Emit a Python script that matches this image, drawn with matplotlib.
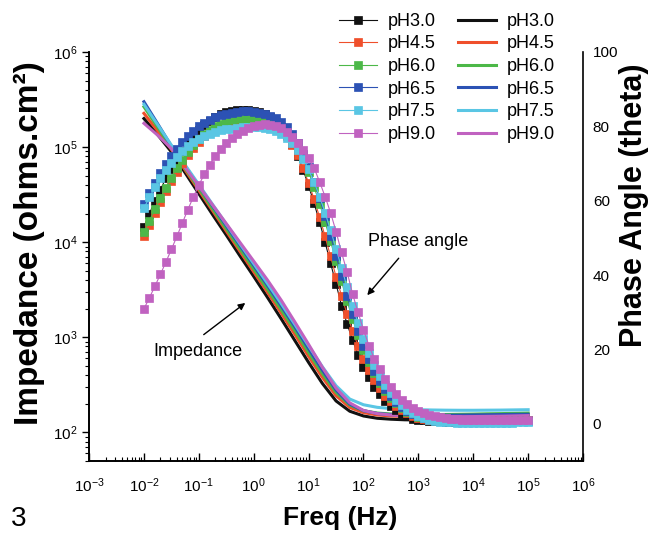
import numpy as np
import matplotlib
matplotlib.use('Agg')
import matplotlib.pyplot as plt
from matplotlib.ticker import LogLocator

plt.rcParams['font.family'] = ['Liberation Sans', 'DejaVu Sans']
plt.rcParams['mathtext.default'] = 'regular'
plt.rcParams['axes.unicode_minus'] = False

# serie pomiarowe
labels = ['pH3.0', 'pH4.5', 'pH6.0', 'pH6.5', 'pH7.5', 'pH9.0']
colors = ['#111111', '#ef4f2b', '#4cb848', '#2c52b4', '#5ac6e4', '#c062c0']

# czestotliwosci: kat fazowy 10 pkt/dekade, impedancja co 0.25 dekady
freq_phase = np.logspace(-2, 5, 71)
freq_imp = np.logspace(-2, 5, 29)

# kat fazowy (stopnie)
phase_30 = [53.0, 56.5, 60.0, 63.0, 66.0, 68.6, 71.0, 73.3, 75.4, 77.2,
            78.9, 80.3, 81.5, 82.5, 83.2, 83.8, 84.2, 84.4, 84.5, 84.4,
            84.2, 83.8, 83.2, 82.4, 81.3, 79.7, 77.7, 75.2, 72.0, 68.3,
            64.0, 59.3, 54.3, 48.8, 43.2, 37.6, 31.8, 26.9, 22.5, 18.6,
            15.4, 12.5, 10.0, 8.0, 6.2, 4.8, 3.6, 2.7, 2.0, 1.4,
            1.1, 0.9, 0.8, 0.7, 0.7, 0.6, 0.6, 0.6, 0.6, 0.6,
            0.6, 0.6, 0.6, 0.7, 0.7, 0.7, 0.8, 0.8, 0.8, 0.9, 0.9]
phase_45 = [50.4, 53.5, 56.6, 59.6, 62.5, 65.2, 67.8, 70.1, 72.3, 74.2,
            75.9, 77.3, 78.5, 79.5, 80.3, 80.9, 81.3, 81.6, 81.8, 81.9,
            81.9, 81.8, 81.5, 81.0, 80.2, 79.0, 77.3, 75.0, 72.2, 68.7,
            64.8, 60.4, 55.6, 50.4, 45.0, 39.6, 34.4, 29.5, 25.0, 21.0,
            17.5, 14.5, 11.8, 9.5, 7.6, 6.0, 4.7, 3.6, 2.8, 2.1,
            1.6, 1.3, 1.1, 1.0, 0.9, 0.9, 0.8, 0.8, 0.8, 0.8,
            0.8, 0.8, 0.8, 0.8, 0.9, 0.9, 0.9, 1.0, 1.0, 1.0, 1.0]
phase_60 = [51.5, 54.6, 57.7, 60.7, 63.5, 66.2, 68.7, 71.0, 73.1, 75.0,
            76.6, 78.0, 79.1, 80.0, 80.7, 81.2, 81.6, 81.9, 82.0, 82.1,
            82.1, 82.0, 81.8, 81.4, 80.8, 79.9, 78.6, 76.8, 74.4, 71.4,
            67.8, 63.7, 59.2, 54.3, 49.1, 43.7, 38.3, 33.1, 28.2, 23.8,
            19.9, 16.5, 13.6, 11.0, 8.9, 7.0, 5.5, 4.3, 3.3, 2.5,
            1.9, 1.5, 1.2, 1.0, 0.9, 0.8, 0.8, 0.7, 0.7, 0.7,
            0.7, 0.7, 0.7, 0.8, 0.8, 0.8, 0.8, 0.9, 0.9, 0.9, 0.9]
phase_65 = [59.0, 62.0, 64.8, 67.4, 69.8, 72.0, 74.0, 75.8, 77.4, 78.8,
            80.0, 81.0, 81.8, 82.5, 83.0, 83.4, 83.7, 83.9, 84.0, 84.0,
            83.9, 83.7, 83.4, 82.9, 82.2, 81.2, 79.8, 77.9, 75.5, 72.5,
            69.0, 65.0, 60.6, 55.8, 50.6, 45.2, 39.8, 34.5, 29.5, 25.0,
            21.0, 17.4, 14.3, 11.6, 9.3, 7.4, 5.8, 4.5, 3.4, 2.6,
            2.0, 1.5, 1.2, 1.0, 0.9, 0.8, 0.7, 0.7, 0.6, 0.6,
            0.6, 0.6, 0.6, 0.6, 0.6, 0.7, 0.7, 0.7, 0.7, 0.8, 0.8]
phase_75 = [58.0, 60.9, 63.6, 66.0, 68.2, 70.1, 71.8, 73.3, 74.6, 75.7,
            76.6, 77.4, 78.0, 78.5, 78.9, 79.2, 79.4, 79.6, 79.7, 79.8,
            79.8, 79.7, 79.5, 79.2, 78.7, 78.0, 77.0, 75.6, 73.7, 71.3,
            68.4, 65.0, 61.1, 56.8, 52.1, 47.1, 42.0, 36.8, 31.8, 27.1,
            22.8, 19.0, 15.7, 12.8, 10.4, 8.3, 6.5, 5.0, 3.8, 2.9,
            2.1, 1.5, 1.1, 0.8, 0.6, 0.5, 0.4, 0.3, 0.3, 0.3,
            0.3, 0.3, 0.3, 0.3, 0.3, 0.3, 0.3, 0.3, 0.4, 0.4, 0.4]
phase_90 = [30.9, 33.9, 37.0, 40.2, 43.5, 46.9, 50.4, 54.0, 57.6, 61.0,
            64.2, 67.1, 69.7, 72.0, 73.9, 75.5, 76.8, 77.9, 78.8, 79.5,
            80.0, 80.3, 80.5, 80.4, 80.1, 79.5, 78.5, 77.2, 75.6, 73.7,
            71.4, 68.8, 65.1, 61.1, 56.8, 51.7, 46.1, 40.9, 35.0, 30.0,
            25.3, 21.0, 17.4, 14.6, 12.0, 9.8, 8.0, 6.4, 5.3, 4.2,
            3.4, 2.8, 2.3, 2.0, 1.7, 1.5, 1.3, 1.2, 1.1, 1.0,
            1.0, 0.9, 0.9, 0.9, 0.9, 0.9, 1.0, 1.0, 1.0, 1.1, 1.1]

# impedancja, log10 |Z| (ohm.cm2)
logz_30 = [5.30, 5.13, 4.95, 4.73, 4.51, 4.29, 4.075, 3.855, 3.64, 3.42,
           3.195, 2.965, 2.735, 2.515, 2.33, 2.222, 2.172, 2.148, 2.138, 2.132,
           2.13, 2.13, 2.133, 2.137, 2.142, 2.148, 2.155, 2.162, 2.17]
logz_45 = [5.355, 5.17, 4.975, 4.76, 4.546, 4.332, 4.117, 3.903, 3.688, 3.474,
           3.255, 3.03, 2.80, 2.58, 2.385, 2.262, 2.207, 2.183, 2.172, 2.167,
           2.165, 2.165, 2.167, 2.17, 2.173, 2.177, 2.18, 2.184, 2.188]
logz_60 = [5.424, 5.21, 4.99, 4.778, 4.566, 4.354, 4.142, 3.93, 3.718, 3.506,
           3.29, 3.07, 2.84, 2.62, 2.42, 2.287, 2.227, 2.203, 2.193, 2.189,
           2.187, 2.187, 2.188, 2.19, 2.192, 2.195, 2.197, 2.2, 2.203]
logz_65 = [5.477, 5.245, 5.01, 4.80, 4.592, 4.382, 4.173, 3.964, 3.755, 3.545,
           3.33, 3.11, 2.88, 2.655, 2.445, 2.297, 2.228, 2.198, 2.186, 2.181,
           2.179, 2.179, 2.18, 2.181, 2.183, 2.185, 2.187, 2.189, 2.19]
logz_75 = [5.45, 5.235, 5.02, 4.812, 4.605, 4.397, 4.19, 3.982, 3.775, 3.567,
           3.355, 3.135, 2.91, 2.69, 2.49, 2.35, 2.29, 2.263, 2.25, 2.243,
           2.238, 2.235, 2.233, 2.232, 2.232, 2.233, 2.234, 2.236, 2.238]
logz_90 = [5.25, 5.125, 4.985, 4.787, 4.59, 4.392, 4.195, 3.997, 3.80, 3.602,
           3.39, 3.16, 2.925, 2.685, 2.465, 2.31, 2.23, 2.197, 2.182, 2.174,
           2.17, 2.167, 2.165, 2.165, 2.166, 2.168, 2.17, 2.173, 2.176]

phases = [phase_30, phase_45, phase_60, phase_65, phase_75, phase_90]
logzs = [logz_30, logz_45, logz_60, logz_65, logz_75, logz_90]

fig = plt.figure(figsize=(6.5, 5.36), dpi=100)
ax = fig.add_axes([0.137, 0.140, 0.760, 0.763])
ax2 = ax.twinx()

# impedancja - linie ciagle
imp_lines = []
for z, c, lab in zip(logzs, colors, labels):
    ln, = ax.plot(freq_imp, 10 ** np.array(z), color=c, lw=2.2, label=lab)
    imp_lines.append(ln)

# kat fazowy - kwadraty
ph_lines = []
for p, c, lab in zip(phases, colors, labels):
    ln, = ax2.plot(freq_phase, p, color=c, lw=0.8, marker='s', ms=5.2,
                   mec=c, mew=0.5, label=lab)
    ph_lines.append(ln)

ax.set_xscale('log')
ax.set_yscale('log')
ax.set_xlim(1e-3, 1e6)
ax.set_ylim(50, 1e6)
ax2.set_ylim(-10, 100)
ax2.set_yticks(range(0, 101, 20))

ax.xaxis.set_major_locator(LogLocator(base=10, numticks=15))
ax.xaxis.set_minor_locator(LogLocator(base=10, subs=np.arange(2, 10), numticks=15))
ax.yaxis.set_major_locator(LogLocator(base=10, numticks=15))
ax.yaxis.set_minor_locator(LogLocator(base=10, subs=np.arange(2, 10), numticks=15))

for a in (ax, ax2):
    a.spines['top'].set_visible(False)
    for s in a.spines.values():
        s.set_linewidth(1.2)
ax.spines['right'].set_visible(False)

ax.tick_params(axis='x', which='major', direction='in', length=6, width=1, labelsize=11, pad=11)
ax.tick_params(axis='x', which='minor', direction='in', length=3, width=0.8)
ax.tick_params(axis='y', which='major', direction='out', length=5, width=1, labelsize=11, pad=3)
ax.tick_params(axis='y', which='minor', direction='out', length=3, width=0.8)
ax2.tick_params(axis='y', length=0, labelsize=11, pad=7)

# opisy
ax.annotate('', xy=(0.77, 2390), xytext=(0.112, 1023),
            arrowprops=dict(arrowstyle='-|>', color='black', lw=1, mutation_scale=10))
ax.text(0.0966, 713, 'Impedance', fontsize=13, ha='center', va='center')
ax.annotate('', xy=(108.6, 2630), xytext=(472, 7130),
            arrowprops=dict(arrowstyle='-|>', color='black', lw=1, mutation_scale=10))
ax.text(1000, 10230, 'Phase angle', fontsize=13, ha='center', va='center')

fig.text(0.0446, 0.547, 'Impedance (ohms.cm²)', rotation=90, ha='center', va='center',
         fontsize=24, fontweight='bold')
fig.text(0.975, 0.6175, 'Phase Angle (theta)', rotation=90, ha='center', va='center',
         fontsize=22, fontweight='bold')
fig.text(0.523, 0.034, 'Freq (Hz)', ha='center', va='center', fontsize=19, fontweight='bold')
fig.text(0.028, 0.032, '3', ha='center', va='center', fontsize=20)

fig.legend(ph_lines + imp_lines, labels + labels, ncol=2, loc='upper left',
           bbox_to_anchor=(0.522, 0.976), frameon=False, fontsize=13,
           handlelength=2.1, handletextpad=0.6, columnspacing=1.2,
           labelspacing=0.31, borderaxespad=0, borderpad=0)

fig.savefig('out.png', dpi=100)
